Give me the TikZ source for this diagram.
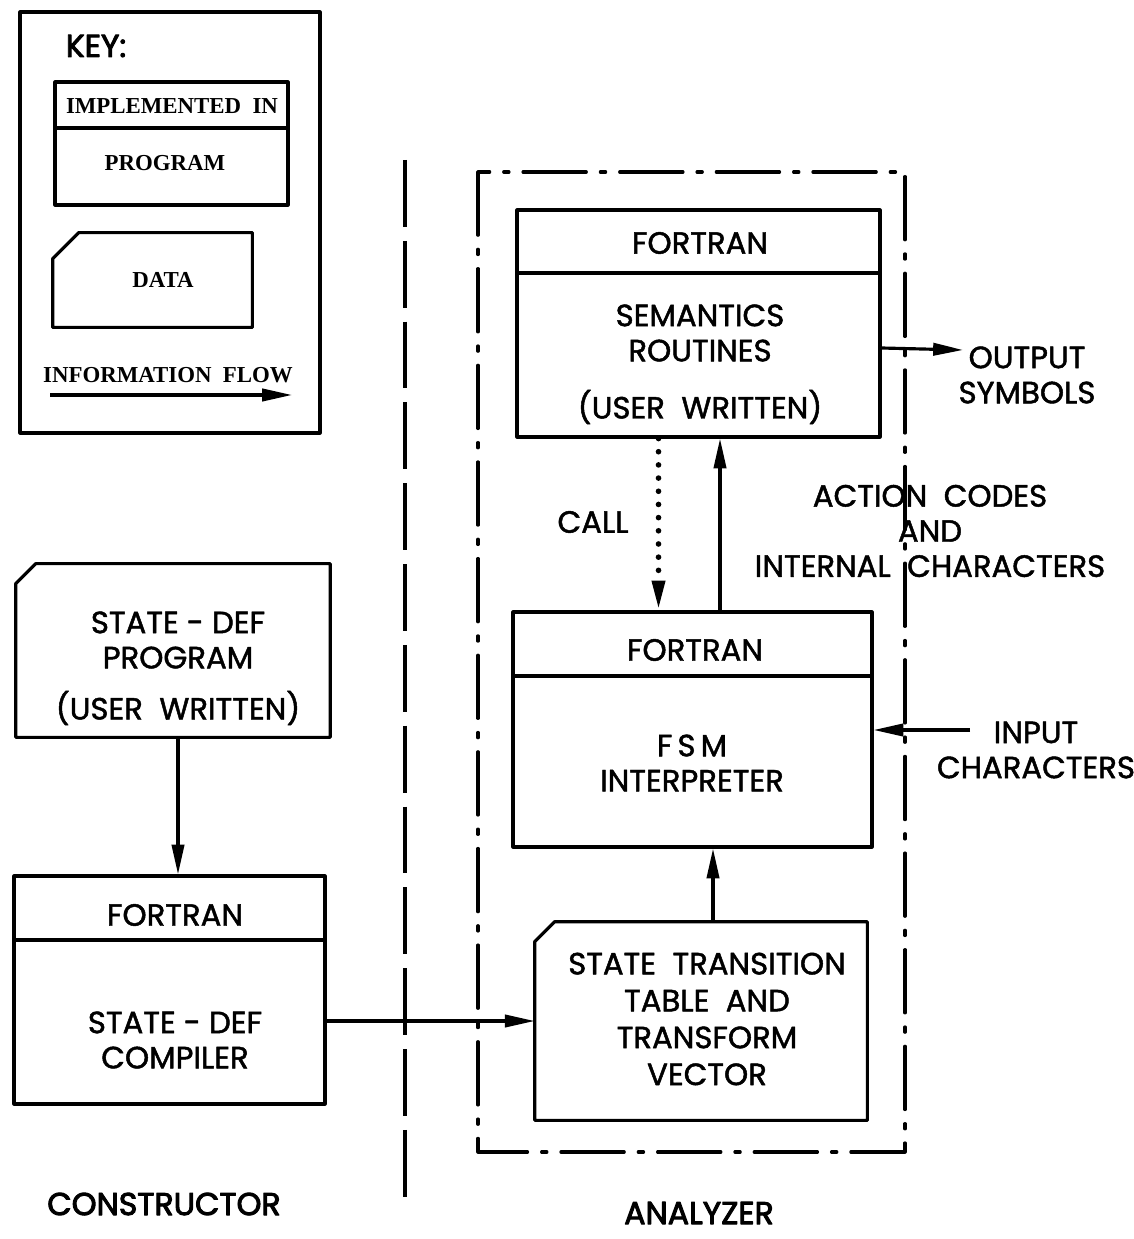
\documentclass[tikz,border=0pt]{standalone}
\usepackage{fontspec}
\setmainfont{Poppins}[FakeBold=1.5]
\newfontfamily\headfont{Poppins}[FakeBold=3]
\newfontfamily\keyfont{Liberation Serif}
\usetikzlibrary{arrows.meta}
% 数据框：左上角切角
\newcommand{\dataoutline}[2]{\draw[hdrline] ([yshift=-#2]#1.north west) -- ([xshift=#2]#1.north west)
  -- (#1.north east) -- (#1.south east) -- (#1.south west) -- cycle;}

\begin{document}
\begin{tikzpicture}[x=0.02cm, y=-0.02cm, line join=round,
  prog/.style={draw, line width=1.8pt, inner sep=0pt},
  data/.style={inner sep=0pt},
  hdrline/.style={line width=1.8pt},
  txt/.style={align=center, inner sep=0pt, font=\fontsize{17.5}{20}\selectfont},
  head/.style={inner sep=0pt, font=\headfont\fontsize{18}{20}\selectfont},
  keytxt/.style={inner sep=0pt, font=\keyfont\bfseries\fontsize{13}{15}\selectfont},
  flow/.style={line width=1.8pt, -{Triangle[length=17pt, width=7pt]}},
  callflow/.style={flow, line width=3.2pt, dash pattern=on 0pt off 7.5pt, line cap=round},
  boundary/.style={line width=1.8pt, line cap=round, dash pattern=on 36pt off 8pt on 3pt off 8pt},
  divline/.style={line width=1.8pt, dash pattern=on 38pt off 8pt}]
\fill[white] (0,0) rectangle (1133,1239);
\useasboundingbox (0,0) rectangle (1133,1239);
% 图例
\node[prog, minimum width=6cm, minimum height=8.42cm] (key) at (170,222.5) {};
\node[head] (keyt) at (96,46) {KEY:};
\node[prog, minimum width=4.66cm, minimum height=2.46cm] (kprog) at (171.5,143.5) {};
\draw[hdrline] (kprog.west |- 0,128) -- (kprog.east |- 0,128);
\node[keytxt] (kimpl) at (172,106) {IMPLEMENTED\ \ IN};
\node[keytxt] (kprogt) at (165,163) {PROGRAM};
\node[data, minimum width=3.98cm, minimum height=1.88cm] (kdata) at (152.5,280) {};
\dataoutline{kdata}{0.52cm}
\node[keytxt] (kdatat) at (163,280) {DATA};
\node[keytxt] (kflow) at (168,375) {INFORMATION\ \ FLOW};
\coordinate (kfa) at (50,395);
\coordinate (kfb) at (292,395);
\draw[flow] (kfa) -- (kfb);
% 分界线与分析器框
\draw[boundary] (478,172) rectangle (905,1152);
\draw[divline] (405,160) -- (405,1200);
% 语义例程
\node[prog, minimum width=7.26cm, minimum height=4.54cm] (sem) at (698.5,323.5) {};
\draw[hdrline] (sem.west |- 0,273) -- (sem.east |- 0,273);
\node[txt] (semf) at (700,243) {FORTRAN};
\node[txt] (semt) at (700,333) {SEMANTICS\\ROUTINES};
\node[txt] (semu) at (700,407) {(USER\ \ WRITTEN)};
% 有限状态机解释器
\node[prog, minimum width=7.18cm, minimum height=4.7cm] (fsm) at (692.5,729.5) {};
\draw[hdrline] (fsm.west |- 0,676) -- (fsm.east |- 0,676);
\node[txt] (fsmf) at (695,650) {FORTRAN};
\node[txt] (fsmt) at (692,763) {F\,S\,M\\INTERPRETER};
% 状态转移表
\node[data, minimum width=6.64cm, minimum height=3.96cm] (stt) at (701,1021) {};
\dataoutline{stt}{0.4cm}
\node[txt, font=\fontsize{17.5}{21}\selectfont] (sttt) at (707,1019) {STATE\ \ TRANSITION\\TABLE\ \ AND\\TRANSFORM\\VECTOR};
% 构造器一侧
\node[data, minimum width=6.28cm, minimum height=3.46cm] (sdp) at (173,650.5) {};
\dataoutline{sdp}{0.4cm}
\node[txt] (sdpt) at (178,640) {STATE - DEF\\PROGRAM};
\node[txt] (sdpu) at (178,708) {(USER\ \ WRITTEN)};
\node[prog, minimum width=6.22cm, minimum height=4.56cm] (sdc) at (169.5,990) {};
\draw[hdrline] (sdc.west |- 0,940) -- (sdc.east |- 0,940);
\node[txt] (sdcf) at (175,915) {FORTRAN};
\node[txt] (sdct) at (175,1040) {STATE - DEF\\COMPILER};
% 信息流
\draw[flow] ([xshift=0.1cm]sdp.south) -- ([xshift=0.1cm]sdp.south |- sdc.north);
\draw[flow] (sdc.east |- stt.west) -- (stt.west);
\draw[flow] ([xshift=0.24cm]stt.north) -- ([xshift=0.24cm]stt.north |- fsm.south);
\draw[flow] ([xshift=0.55cm]fsm.north) -- ([xshift=0.55cm]fsm.north |- sem.south);
\draw[callflow] ([xshift=-0.8cm]sem.south) -- ([xshift=-0.8cm]sem.south |- fsm.north);
\coordinate (outtip) at (963,350);
\draw[flow] ([yshift=-0.49cm]sem.east) -- (outtip);
\coordinate (intail) at (970,730);
\draw[flow] (intail) -- (fsm.east |- intail);
% 标注
\node[txt] (callt) at (593,522) {CALL};
\node[txt] (outt) at (1027,375) {OUTPUT\\SYMBOLS};
\node[txt] (actt) at (930,531) {ACTION\ \ CODES\\AND\\INTERNAL\ \ CHARACTERS};
\node[txt] (int) at (1036,750) {INPUT\\CHARACTERS};
\node[head] (cont) at (164,1204) {CONSTRUCTOR};
\node[head] (anat) at (699,1213) {ANALYZER};
\end{tikzpicture}
\end{document}
